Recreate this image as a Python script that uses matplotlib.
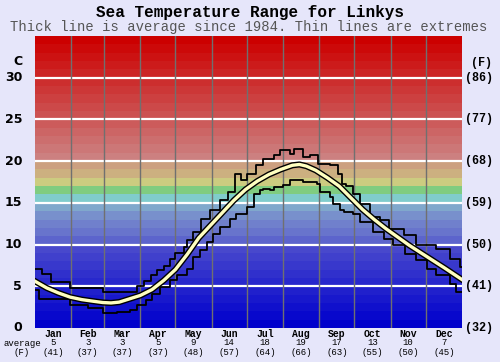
import numpy as np
import matplotlib
matplotlib.use("Agg")
from matplotlib import pyplot as plt
import matplotlib.patheffects as pe

# monthly summary shown under the axis
months = ["Jan", "Feb", "Mar", "Apr", "May", "Jun", "Jul", "Aug", "Sep", "Oct", "Nov", "Dec"]
month_avg_c = [5, 3, 3, 5, 9, 14, 18, 19, 17, 13, 10, 7]
month_avg_f = [41, 37, 37, 37, 48, 57, 64, 66, 63, 55, 50, 45]
month_len = [31, 28, 31, 30, 31, 30, 31, 31, 30, 31, 30, 31]

# average curve (day of year, deg C)
avg_days = [0, 10, 20, 30, 40, 50, 58, 65, 72, 81, 90, 100, 110, 120, 130, 140, 150, 160,
            170, 180, 190, 200, 210, 220, 226, 232, 240, 250, 260, 270, 280, 290, 300, 310,
            320, 330, 340, 350, 365]
avg_vals = [5.6, 4.8, 4.2, 3.7, 3.4, 3.2, 3.05, 3.0, 3.1, 3.5, 3.9, 4.6, 5.7, 7.0, 8.8, 10.8,
            12.3, 13.8, 15.3, 16.6, 17.6, 18.4, 19.0, 19.5, 19.6, 19.4, 18.9, 18.0, 17.0, 15.6,
            14.2, 13.0, 11.9, 10.9, 9.9, 9.0, 8.1, 7.2, 5.8]

# extremes (step lines)
max_days = [0, 6, 14, 30, 58, 87, 93, 99, 104, 110, 115, 120, 127, 130, 135, 142, 150, 158,
            165, 171, 176, 181, 189, 195, 204, 209, 218, 221, 229, 235, 242, 252, 259, 262,
            266, 272, 278, 286, 295, 303, 315, 326, 343, 355, 363, 365]
max_vals = [7.1, 6.5, 5.5, 4.8, 4.3, 5.0, 5.6, 6.4, 6.9, 7.4, 8.3, 9.0, 9.7, 10.5, 11.5, 13.1,
            14.1, 15.3, 16.3, 18.5, 17.7, 18.5, 19.5, 20.3, 20.7, 21.3, 20.9, 21.5, 20.5, 20.7,
            19.7, 19.5, 18.5, 17.3, 17.0, 16.1, 14.9, 13.3, 12.9, 11.9, 11.1, 9.9, 9.5, 8.3,
            7.3, 7.3]
min_days = [0, 3, 30, 45, 58, 70, 81, 87, 95, 100, 107, 115, 121, 130, 135, 141, 147, 152,
            158, 167, 172, 181, 187, 192, 195, 201, 204, 212, 218, 229, 241, 244, 252, 255,
            261, 264, 272, 278, 289, 298, 306, 316, 326, 335, 343, 355, 360, 365]
min_vals = [4.5, 3.5, 2.7, 2.4, 1.8, 1.9, 2.2, 2.8, 3.3, 4.1, 4.9, 5.7, 6.3, 7.1, 8.5, 9.3,
            10.3, 11.3, 12.1, 13.1, 13.7, 14.5, 16.1, 16.5, 16.7, 16.5, 16.9, 17.1, 17.7, 17.5,
            17.3, 16.3, 15.7, 14.9, 14.1, 13.9, 13.7, 12.7, 11.5, 10.7, 9.9, 8.9, 8.1, 7.1,
            6.3, 5.3, 4.3, 4.3]

c_ticks = [0, 5, 10, 15, 20, 25, 30]
f_ticks = [32, 41, 50, 59, 68, 77, 86]

bg = "#e6e6fa"
mono = "Liberation Mono"


def band_color(k):
    # one colour per degree band, blue -> cyan/green/yellow -> red
    fixed = {19: (204, 160, 128), 18: (204, 176, 128), 17: (204, 204, 128),
             16: (128, 204, 128), 15: (128, 204, 204), 14: (128, 168, 204),
             13: (120, 144, 204), 12: (112, 128, 204), 11: (104, 116, 204),
             10: (92, 100, 204)}
    if k in fixed:
        r, g, b = fixed[k]
    elif k >= 20:
        v = 128 * (34 - k) / 14.0
        r, g, b = 204, v, v
    else:
        v = 72 * k / 9.0
        r, g, b = v, v, 204
    return (r / 255, g / 255, b / 255)


fig = plt.figure(figsize=(5.0, 3.62), dpi=100, facecolor=bg)
ax = fig.add_axes([0.07, 0.094, 0.854, 0.8066])

for k in range(0, 35):
    ax.axhspan(k, k + 1, color=band_color(k), lw=0, zorder=0)

for c in c_ticks[1:]:
    ax.axhline(c, color="white", lw=1.6, zorder=1)

bounds = np.cumsum(month_len)
for b in bounds[:-1]:
    ax.axvline(b, color="#707070", lw=1.0, zorder=1)

ax.plot(max_days, max_vals, drawstyle="steps-post", color="black", lw=1.3, zorder=3)
ax.plot(min_days, min_vals, drawstyle="steps-post", color="black", lw=1.3, zorder=3)
ax.plot(avg_days, avg_vals, color="#ffffc0", lw=2.4, zorder=4,
        path_effects=[pe.Stroke(linewidth=4.4, foreground="black"), pe.Normal()])

ax.set_xlim(0, 365)
ax.set_ylim(0, 35)
ax.set_xticks([])
ax.set_yticks([])
for s in ax.spines.values():
    s.set_visible(False)

ytr = ax.get_yaxis_transform()
for c, f in zip(c_ticks, f_ticks):
    ax.text(-0.03, c, str(c), transform=ytr, ha="right", va="center",
            fontsize=9, fontweight="bold", family="DejaVu Sans")
    ax.text(1.007, c, "(%d)" % f, transform=ytr, ha="left", va="center",
            fontsize=8.5, fontweight="bold", family=mono)
ax.text(-0.03, 32.0, "C", transform=ytr, ha="right", va="center",
        fontsize=9, fontweight="bold", family="DejaVu Sans")
ax.text(1.045, 31.8, "(F)", transform=ytr, ha="center", va="center",
        fontsize=8.5, fontweight="bold", family=mono)

xtr = ax.get_xaxis_transform()
starts = bounds - np.array(month_len)
for i, m in enumerate(months):
    mid = starts[i] + month_len[i] / 2.0
    ax.text(mid, -0.019, m, transform=xtr, ha="center", va="center",
            fontsize=7, fontweight="bold", family=mono)
    ax.text(mid, -0.050, str(month_avg_c[i]), transform=xtr, ha="center", va="center",
            fontsize=6.5, family=mono)
    ax.text(mid, -0.083, "(%d)" % month_avg_f[i], transform=xtr, ha="center", va="center",
            fontsize=6.5, family=mono)

fig.text(22 / 500, 1 - 343 / 362, "average", ha="center", va="center",
         fontsize=6.5, family=mono)
fig.text(22 / 500, 1 - 352.5 / 362, "(F)", ha="center", va="center",
         fontsize=6.5, family=mono)

fig.text(0.5, 1 - 12 / 362, "Sea Temperature Range for Linkys", ha="center", va="center",
         fontsize=11.5, fontweight="bold", family=mono)
fig.text(0.498, 1 - 27 / 362, "Thick line is average since 1984. Thin lines are extremes",
         ha="center", va="center", fontsize=10, color="#555555", family=mono)

fig.savefig("out.png", dpi=100, facecolor=bg)
